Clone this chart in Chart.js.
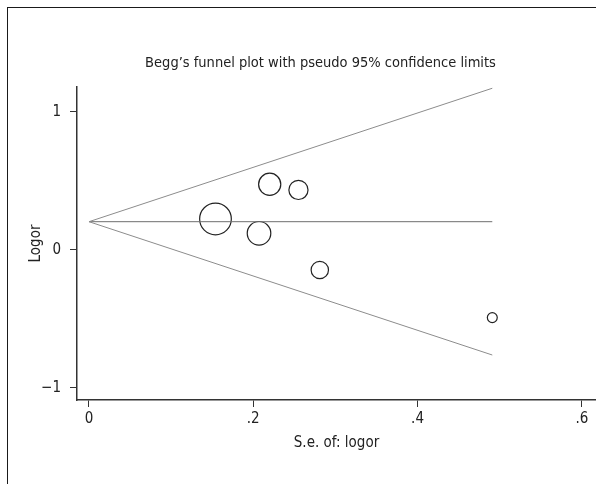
<!DOCTYPE html>
<html lang="en">
<head>
<meta charset="UTF-8">
<title>Begg's funnel plot</title>
<script src="https://cdn.jsdelivr.net/npm/chart.js"></script>
<style>
  * { margin: 0; padding: 0; box-sizing: border-box; }
  html, body { width: 596px; height: 484px; overflow: hidden; background: #fff; }
  /* outer frame, cut off at the right and bottom like the source image */
  .frame {
    position: absolute; left: 7px; top: 7px;
    width: 700px; height: 600px;
    border: 1px solid #1a1a1a;
  }
  canvas { position: absolute; left: 0; top: 0; }
</style>
</head>
<body>
<div class="frame"></div>
<!-- canvas is a bit wider than the window so the plot area reaches the right edge -->
<canvas id="funnel" width="613" height="484"></canvas>
<script>
  // study points: standard error vs log odds ratio
  const studySe = [0.154, 0.207, 0.220, 0.255, 0.281, 0.491];
  const studyLogor = [0.225, 0.121, 0.476, 0.435, -0.145, -0.490];

  // pooled estimate and pseudo 95% limits (line end points)
  const funnelSe = [0, 0.491];
  const pooledLogor = [0.205, 0.205];
  const upperLimit = [0.205, 1.172];
  const lowerLimit = [0.205, -0.761];

  const xTicks = [0, 0.2, 0.4, 0.6];
  const yTicks = [-1, 0, 1];

  const FONT = "'Liberation Sans Narrow', 'DejaVu Sans Condensed', sans-serif";
  const textFont = { family: FONT, size: 15, weight: 'normal', lineHeight: 1.2 };
  const titleFont = { family: FONT, size: 14.5, weight: 'normal', lineHeight: 1.2 };

  const pts = (xs, ys) => xs.map((x, i) => ({ x: x, y: ys[i] }));

  // Stata style labels: ".2", "0", "−1"
  function fmt(v) {
    if (v === 0) return '0';
    const s = String(Math.abs(v)).replace(/^0\./, '.');
    return v < 0 ? '\u2212' + s : s;
  }

  const lineSet = (label, ys, color) => ({
    label: label,
    data: pts(funnelSe, ys),
    showLine: true,
    pointRadius: 0,
    borderColor: color,
    borderWidth: 1,
    fill: false
  });

  const noPad = s => { s.paddingLeft = 0; s.paddingRight = 0; s.paddingTop = 0; s.paddingBottom = 0; };

  new Chart(document.getElementById('funnel'), {
    type: 'scatter',
    data: {
      datasets: [
        lineSet('Lower limit', lowerLimit, '#8c8c8c'),
        lineSet('Upper limit', upperLimit, '#8c8c8c'),
        lineSet('Pooled', pooledLogor, '#6e6e6e'),
        {
          label: 'Studies',
          data: pts(studySe, studyLogor),
          // marker area proportional to 1/se^2
          pointRadius: ctx => 2.44 / ctx.raw.x,
          backgroundColor: 'rgba(0,0,0,0)',
          borderColor: '#222',
          borderWidth: 1.2
        }
      ]
    },
    options: {
      responsive: false,
      animation: false,
      events: [],
      layout: { padding: { left: 28, right: 0, top: 0, bottom: 0 } },
      plugins: {
        legend: { display: false },
        tooltip: { enabled: false },
        title: {
          display: true,
          text: 'Begg\u2019s funnel plot with pseudo 95% confidence limits',
          color: '#222',
          font: titleFont,
          padding: { top: 54.6, bottom: 15 }
        }
      },
      scales: {
        x: {
          type: 'linear',
          min: -0.0146,
          max: 0.6172,
          afterFit: s => { s.height = 84; noPad(s); },
          afterBuildTicks: s => { s.ticks = xTicks.map(v => ({ value: v })); },
          grid: { drawOnChartArea: false, tickLength: 7, color: '#333' },
          border: { color: '#333', width: 1.5 },
          ticks: { padding: 3, color: '#222', font: textFont, maxRotation: 0, callback: fmt },
          title: {
            display: true,
            text: 'S.e. of: logor',
            color: '#222',
            font: textFont,
            padding: { top: 0, bottom: 32 }
          }
        },
        y: {
          type: 'linear',
          min: -1.087,
          max: 1.181,
          afterFit: s => { s.width = 49; noPad(s); },
          afterBuildTicks: s => { s.ticks = yTicks.map(v => ({ value: v })); },
          grid: { drawOnChartArea: false, tickLength: 7, color: '#333' },
          border: { color: '#333', width: 1.5 },
          ticks: { padding: 9, color: '#222', font: textFont, callback: fmt },
          title: {
            display: true,
            text: 'Logor',
            color: '#222',
            font: textFont,
            padding: { top: -1, bottom: 0 }
          }
        }
      }
    }
  });
</script>
</body>
</html>
